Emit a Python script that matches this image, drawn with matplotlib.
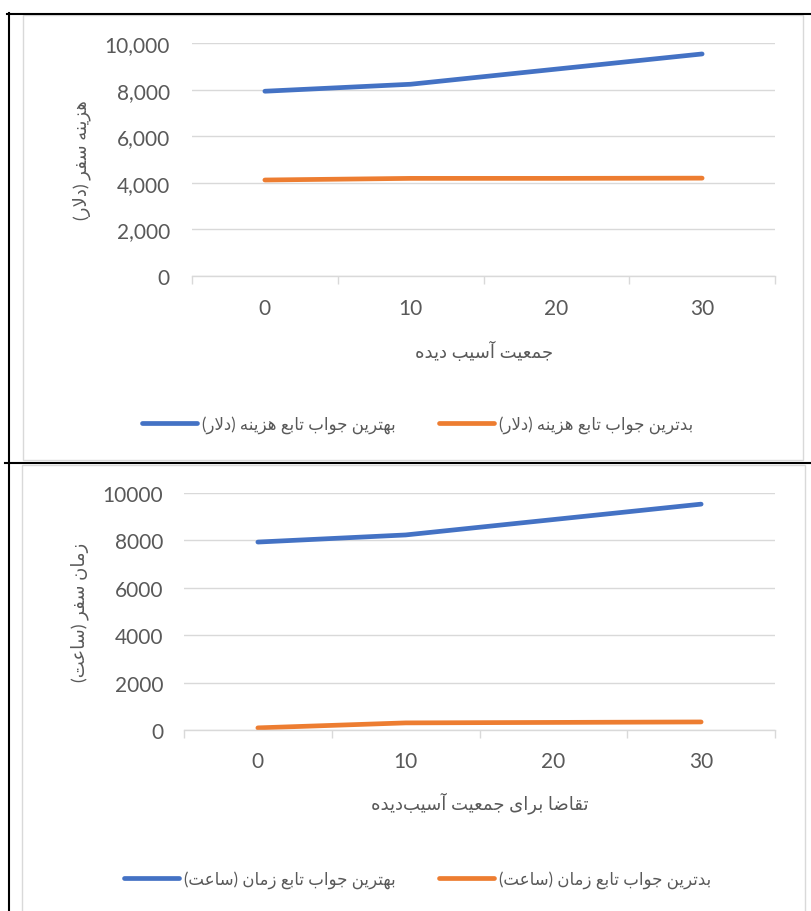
import matplotlib
matplotlib.use("Agg")
import matplotlib.pyplot as plt
from matplotlib.lines import Line2D
from matplotlib.patches import Rectangle
from matplotlib.font_manager import FontProperties
from matplotlib.ticker import FuncFormatter, FixedLocator

# ---------------- data ----------------
categories = ["0", "10", "20", "30"]
cost_best = [7930, 8230, 8880, 9530]
cost_worst = [4120, 4190, 4190, 4200]
time_best = [7930, 8230, 8880, 9530]
time_worst = [90, 300, 320, 340]

cost_ylabel = "هزینه سفر (دلار)"
cost_xlabel = "جمعیت آسیب دیده"
cost_best_name = "بهترین جواب تابع هزینه (دلار)"
cost_worst_name = "بدترین جواب تابع هزینه (دلار)"
time_ylabel = "زمان سفر (ساعت)"
time_xlabel = "تقاضا برای جمعیت آسیب\u200cدیده"
time_best_name = "بهترین جواب تابع زمان (ساعت)"
time_worst_name = "بدترین جواب تابع زمان (ساعت)"

# ---------------- Persian shaping (contextual forms + RTL order) ----------------
FORMS = {
    "\u0627": ("\uFE8D", "\uFE8E", None, None),
    "\u0622": ("\uFE81", "\uFE82", None, None),
    "\u0628": ("\uFE8F", "\uFE90", "\uFE91", "\uFE92"),
    "\u062A": ("\uFE95", "\uFE96", "\uFE97", "\uFE98"),
    "\u062C": ("\uFE9D", "\uFE9E", "\uFE9F", "\uFEA0"),
    "\u062F": ("\uFEA9", "\uFEAA", None, None),
    "\u0631": ("\uFEAD", "\uFEAE", None, None),
    "\u0632": ("\uFEAF", "\uFEB0", None, None),
    "\u0633": ("\uFEB1", "\uFEB2", "\uFEB3", "\uFEB4"),
    "\u0636": ("\uFEBD", "\uFEBE", "\uFEBF", "\uFEC0"),
    "\u0639": ("\uFEC9", "\uFECA", "\uFECB", "\uFECC"),
    "\u0641": ("\uFED1", "\uFED2", "\uFED3", "\uFED4"),
    "\u0642": ("\uFED5", "\uFED6", "\uFED7", "\uFED8"),
    "\u0644": ("\uFEDD", "\uFEDE", "\uFEDF", "\uFEE0"),
    "\u0645": ("\uFEE1", "\uFEE2", "\uFEE3", "\uFEE4"),
    "\u0646": ("\uFEE5", "\uFEE6", "\uFEE7", "\uFEE8"),
    "\u0647": ("\uFEE9", "\uFEEA", "\uFEEB", "\uFEEC"),
    "\u0648": ("\uFEED", "\uFEEE", None, None),
    "\u06CC": ("\uFEEF", "\uFEF0", "\uFEF3", "\uFEF4"),
}
LAM_ALEF = {"\u0627": ("\uFEFB", "\uFEFC"), "\u0622": ("\uFEF5", "\uFEF6")}


def _dual(ch):
    return ch in FORMS and FORMS[ch][2] is not None


def fa(text):
    out = []
    n = len(text)
    i = 0
    while i < n:
        ch = text[i]
        prev = text[i - 1] if i > 0 else ""
        joins_prev = _dual(prev)
        if ch == "\u0644" and i + 1 < n and text[i + 1] in LAM_ALEF:
            out.append(LAM_ALEF[text[i + 1]][1 if joins_prev else 0])
            i += 2
            continue
        if ch in FORMS:
            nxt = text[i + 1] if i + 1 < n else ""
            joins_next = _dual(ch) and nxt in FORMS
            iso, fin, ini, med = FORMS[ch]
            if joins_prev and joins_next:
                g = med
            elif joins_prev:
                g = fin
            elif joins_next:
                g = ini
            else:
                g = iso
            out.append(g)
        elif ch != "\u200c":
            out.append(ch)
        i += 1
    vis = "".join(reversed(out))
    return vis.translate(str.maketrans("()", ")("))


# ---------------- style ----------------
FAMILY = ["Lato", "DejaVu Sans"]
TXT = "#595959"
GRID = "#d9d9d9"
BLUE = "#4472C4"
ORANGE = "#ED7D31"
LW = 3.4

W, H = 811, 912
fig = plt.figure(figsize=(W / 100, H / 100), dpi=100)


def fx(px):
    return px / W


def fy(py):
    return 1 - py / H


# table borders and chart frames
fig.add_artist(Rectangle((fx(23), fy(461)), fx(803) - fx(23), fy(16) - fy(461),
                         transform=fig.transFigure, fill=False, ec=GRID, lw=1.0))
fig.add_artist(Rectangle((fx(22), fy(913)), fx(805) - fx(22), fy(466) - fy(913),
                         transform=fig.transFigure, fill=False, ec=GRID, lw=1.0))
for xs, ys in [((7, 811), (14.5, 14.5)), ((8.5, 8.5), (14, 912)), ((5, 811), (463.5, 463.5))]:
    fig.add_artist(Line2D([fx(x) for x in xs], [fy(y) for y in ys],
                          transform=fig.transFigure, color="black", lw=1.5))


def style_axes(ax, fmt, ypad, xpad):
    x = list(range(len(categories)))
    ax.set_xlim(-0.5, len(categories) - 0.5)
    ax.set_ylim(0, 10000)
    ax.set_yticks(range(0, 10001, 2000))
    ax.yaxis.set_major_formatter(FuncFormatter(fmt))
    ax.set_xticks(x)
    ax.set_xticklabels(categories)
    ax.xaxis.set_minor_locator(FixedLocator([i - 0.5 for i in range(len(categories) + 1)]))
    ax.tick_params(axis="x", which="major", length=0, pad=xpad, labelsize=15, labelcolor=TXT)
    ax.tick_params(axis="x", which="minor", length=6, width=1.0, color=GRID, direction="out")
    ax.tick_params(axis="y", length=0, pad=ypad, labelsize=15, labelcolor=TXT)
    for lab in ax.get_xticklabels() + ax.get_yticklabels():
        lab.set_family(FAMILY)
    for s in ("top", "right", "left"):
        ax.spines[s].set_visible(False)
    ax.spines["bottom"].set_color(GRID)
    ax.spines["bottom"].set_linewidth(1.0)
    ax.grid(axis="y", color=GRID, lw=1.0)
    ax.set_axisbelow(True)
    ax.set_facecolor("none")
    return x


def draw_lines(ax, x, best, worst):
    ax.plot(x, best, color=BLUE, lw=LW, solid_capstyle="round", solid_joinstyle="round")
    ax.plot(x, worst, color=ORANGE, lw=LW, solid_capstyle="round", solid_joinstyle="round")


def legend(best_name, worst_name, cx, cy):
    handles = [Line2D([], [], color=BLUE, lw=LW, solid_capstyle="round"),
               Line2D([], [], color=ORANGE, lw=LW, solid_capstyle="round")]
    fig.legend(handles, [fa(best_name), fa(worst_name)], loc="center",
               bbox_to_anchor=(fx(cx), fy(cy)), ncol=2, frameon=False,
               prop=FontProperties(family=FAMILY, size=12), labelcolor=TXT,
               handlelength=3.3, handletextpad=0.3, columnspacing=2.6)


# ---------------- top chart: cost ----------------
ax1 = fig.add_axes([fx(192), fy(277), fx(775) - fx(192), fy(44) - fy(277)])
x1 = style_axes(ax1, lambda v, p: f"{v:,.0f}", 16, 16)
draw_lines(ax1, x1, cost_best, cost_worst)
fig.text(fx(82), fy(160), fa(cost_ylabel), rotation=90, ha="center", va="center",
         fontsize=13, color=TXT, family=FAMILY)
fig.text(fx(484), fy(351), fa(cost_xlabel), ha="center", va="center",
         fontsize=13, color=TXT, family=FAMILY)
legend(cost_best_name, cost_worst_name, 418, 425)

# ---------------- bottom chart: time ----------------
ax2 = fig.add_axes([fx(184), fy(731), fx(775) - fx(184), fy(494) - fy(731)])
x2 = style_axes(ax2, lambda v, p: f"{v:.0f}", 15, 15)
draw_lines(ax2, x2, time_best, time_worst)
fig.text(fx(80), fy(612), fa(time_ylabel), rotation=90, ha="center", va="center",
         fontsize=13, color=TXT, family=FAMILY)
fig.text(fx(480), fy(803), fa(time_xlabel), ha="center", va="center",
         fontsize=13, color=TXT, family=FAMILY)
legend(time_best_name, time_worst_name, 418, 880)

fig.savefig("out.png", dpi=100)
